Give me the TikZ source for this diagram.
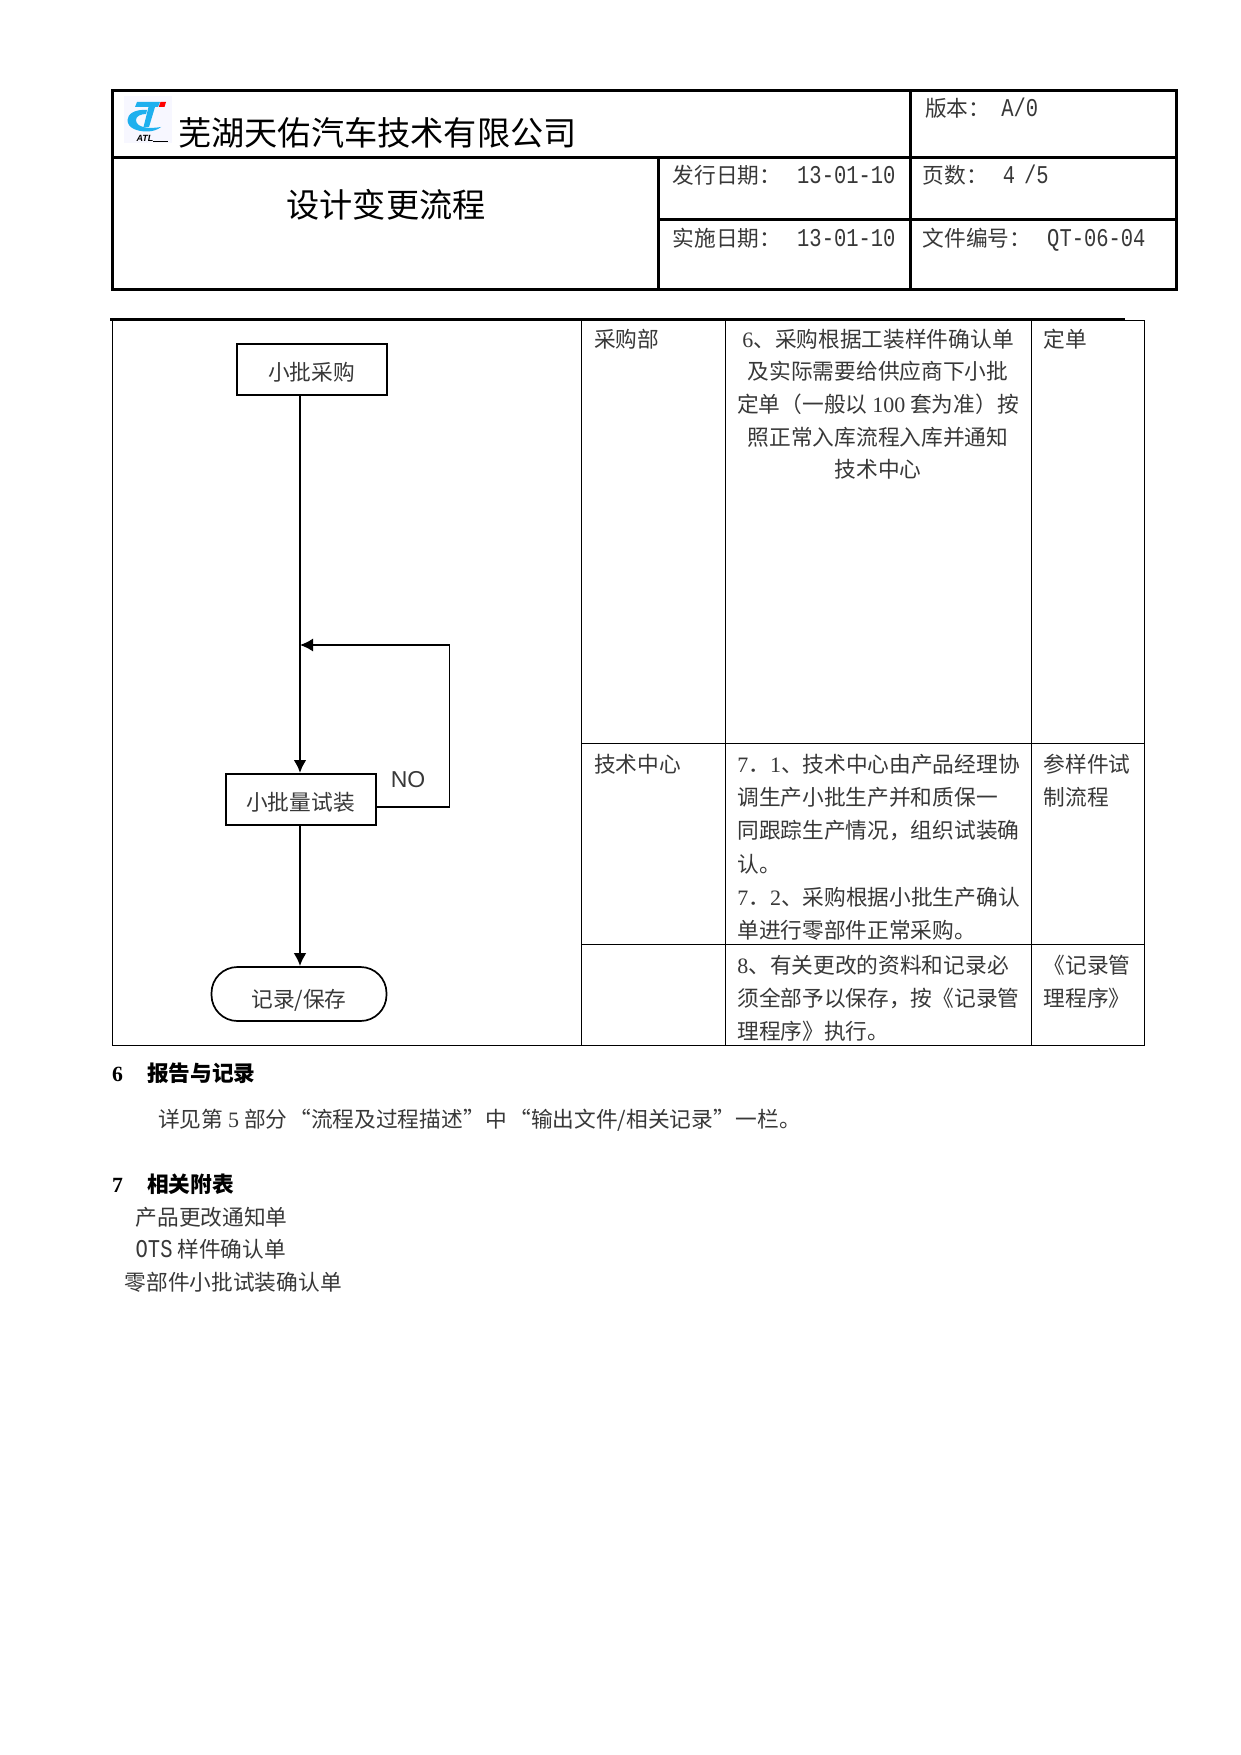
\documentclass[tikz,border=0pt]{standalone}
\usepackage{fontspec}
\usetikzlibrary{arrows.meta}
\setmainfont{Noto Sans CJK SC}
\newfontfamily\latfont[FakeStretch=0.8]{Liberation Mono}
\newfontfamily\serfont{Liberation Serif}
\newfontfamily\arialfont{Liberation Sans}
\newcommand{\lat}[1]{{\fontsize{25.6}{28}\selectfont\latfont #1}}
\newcommand{\ser}[1]{{\fontsize{22}{26}\selectfont\serfont #1}}
\definecolor{ink}{gray}{0.22}
\definecolor{logoblue}{HTML}{1FB0EE}
\tikzset{
  body/.style={inner sep=0pt,text=ink,font=\fontsize{21.7}{26}\selectfont},
  lt/.style={body,anchor=base west,xshift=1.5pt},
  ct/.style={body,anchor=base,xshift=1.5pt},
  headb/.style={inner sep=0pt,anchor=base west,xshift=1.5pt,font=\fontsize{21.7}{26}\selectfont\bfseries},
  big/.style={inner sep=0pt,xshift=1.5pt,font=\fontsize{33.2}{38}\selectfont},
  heavy/.style={line width=3pt},
  grid/.style={line width=1pt},
  flowbox/.style={draw,body,minimum width=150pt,minimum height=51pt,line width=2pt,text height=22pt,text depth=0pt},
  term/.style={draw,body,minimum width=175pt,minimum height=54pt,rounded corners=26pt,line width=1.7pt,text height=26pt,text depth=0pt},
  flow/.style={line width=2.6pt,-{Latex[length=13pt,width=13pt]}},
  back/.style={line width=1.4pt},
}
\begin{document}
\begin{tikzpicture}[x=1pt,y=-1pt]
\useasboundingbox[fill=white] (0,0) rectangle (1241,1755);
% header frame
\draw[heavy] (112,91) rectangle (1176,289.5);
\draw[heavy] (112,157.5) -- (1176,157.5);
\draw[heavy] (658.5,219.5) -- (1176,219.5);
\draw[heavy] (658.5,157.5) -- (658.5,289.5);
\draw[heavy] (910,91) -- (910,289.5);
% logo
\fill[blue!3] (124,96) rectangle (172,143);
\fill[logoblue] (137,102) -- (160,102) -- (158,107) -- (155,107) -- (149,127) -- (143.5,127) -- (148.5,107) -- (135,107) -- cycle;
\fill[red] (160.5,102) -- (166,102) -- (164.5,107) -- (158.8,107) -- cycle;
\fill[logoblue] (147,110) .. controls (135,109) and (127.5,114) .. (127.5,120) .. controls (127.5,128) and (137,131.5) .. (147,131.5) .. controls (153,131.5) and (158,129.5) .. (161,127) .. controls (150,129) and (136,128) .. (136,120) .. controls (136,116) and (141,114) .. (146,114) -- cycle;
\node[inner sep=0pt,font=\arialfont\bfseries\itshape\fontsize{9}{9}\selectfont] (logotext) at (145,138) {ATL};
\draw[line width=.8pt] (153,141) -- (168,141);
% header text
\node[big,anchor=base west] (company) at (176.6,146) {芜湖天佑汽车技术有限公司};
\node[big,anchor=base] (title) at (384.6,217) {设计变更流程};
\node[lt] (ver) at (923.5,116.5) {版本：\hspace{11pt}\lat{A/0}};
\node[lt] (issue) at (671,183.5) {发行日期：\hspace{16pt}\lat{13-01-10}};
\node[lt] (impl) at (671,246) {实施日期：\hspace{16pt}\lat{13-01-10}};
\node[lt] (page) at (921,183.5) {页数：\hspace{15pt}\lat{4}\hspace{9pt}\lat{/5}};
\node[lt] (docno) at (921,246) {文件编号：\hspace{16pt}\lat{QT-06-04}};
% process table
\draw[line width=3pt] (110,319.5) -- (1124.5,319.5);
\draw[grid] (112.5,320.5) rectangle (1144,1045);
\draw[grid] (581,320.5) -- (581,1045);
\draw[grid] (725,320.5) -- (725,1045);
\draw[grid] (1031,320.5) -- (1031,1045);
\draw[grid] (581,743.5) -- (1144,743.5);
\draw[grid] (581,944.5) -- (1144,944.5);
% column 1
\node[lt] (dept1) at (592.5,347) {采购部};
\node[lt] (dept2) at (592.5,772) {技术中心};
% step 6
\node[ct] (s6a) at (876.5,347) {\ser{6}、采购根据工装样件确认单};
\node[ct] (s6b) at (876.5,379.5) {及实际需要给供应商下小批};
\node[ct] (s6c) at (876.5,412) {定单（一般以 \ser{100} 套为准）按};
\node[ct] (s6d) at (876.5,445) {照正常入库流程入库并通知};
\node[ct] (s6e) at (876.5,477) {技术中心};
% step 7
\node[lt] (s7a) at (735.6,772) {\ser{7}．\ser{1}、技术中心由产品经理协};
\node[lt] (s7b) at (735.6,805) {调生产小批生产并和质保一};
\node[lt] (s7c) at (735.6,838) {同跟踪生产情况，组织试装确};
\node[lt] (s7d) at (735.6,872) {认。};
\node[lt] (s7e) at (735.6,905) {\ser{7}．\ser{2}、采购根据小批生产确认};
\node[lt] (s7f) at (735.6,938) {单进行零部件正常采购。};
% step 8
\node[lt] (s8a) at (735.6,973) {\ser{8}、有关更改的资料和记录必};
\node[lt] (s8b) at (735.6,1006) {须全部予以保存，按《记录管};
\node[lt] (s8c) at (735.6,1039) {理程序》执行。};
% column 4
\node[lt] (o1) at (1042,347) {定单};
\node[lt] (o2a) at (1042,772) {参样件试};
\node[lt] (o2b) at (1042,805) {制流程};
\node[lt] (o3a) at (1042,973) {《记录管};
\node[lt] (o3b) at (1042,1006) {理程序》};
% flow chart
\coordinate (merge) at (300,645);
\node[flowbox] (buy) at (311.5,369) {小批采购};
\node[flowbox] (trial) at (300.5,799.5) {小批量试装};
\node[term] (save) at (299,994) {记录/保存};
\node[inner sep=0pt,text=ink,font=\arialfont\fontsize{23}{26}\selectfont] (no) at (408,780) {NO};
\coordinate (loopA) at (449.5,807);
\draw[line width=2.6pt] (buy.south -| merge) -- (merge);
\draw[flow] (merge) -- (merge |- trial.north);
\draw[flow] (trial.south -| merge) -- (save.north -| merge);
\draw[back] (trial.east |- loopA) -- (loopA) -- (loopA |- merge);
\draw[back,-{Latex[length=13pt,width=13pt]}] (loopA |- merge) -- (merge);
% sections
\node[headb] (h6n) at (110.5,1081) {\serfont 6};
\node[headb] (h6) at (145.3,1081) {报告与记录};
\node[lt] (p6) at (156.5,1127) {详见第 \ser{5} 部分\hspace{2pt}“流程及过程描述”\hspace{1pt}中\hspace{2pt}“输出文件/相关记录”\hspace{1pt}一栏。};
\node[headb] (h7n) at (110.5,1192) {\serfont 7};
\node[headb] (h7) at (145.3,1192) {相关附表};
\node[lt] (l1) at (134,1225) {产品更改通知单};
\node[lt] (l2) at (134,1257) {\lat{OTS} 样件确认单};
\node[lt] (l3) at (123,1290) {零部件小批试装确认单};
\end{tikzpicture}
\end{document}
